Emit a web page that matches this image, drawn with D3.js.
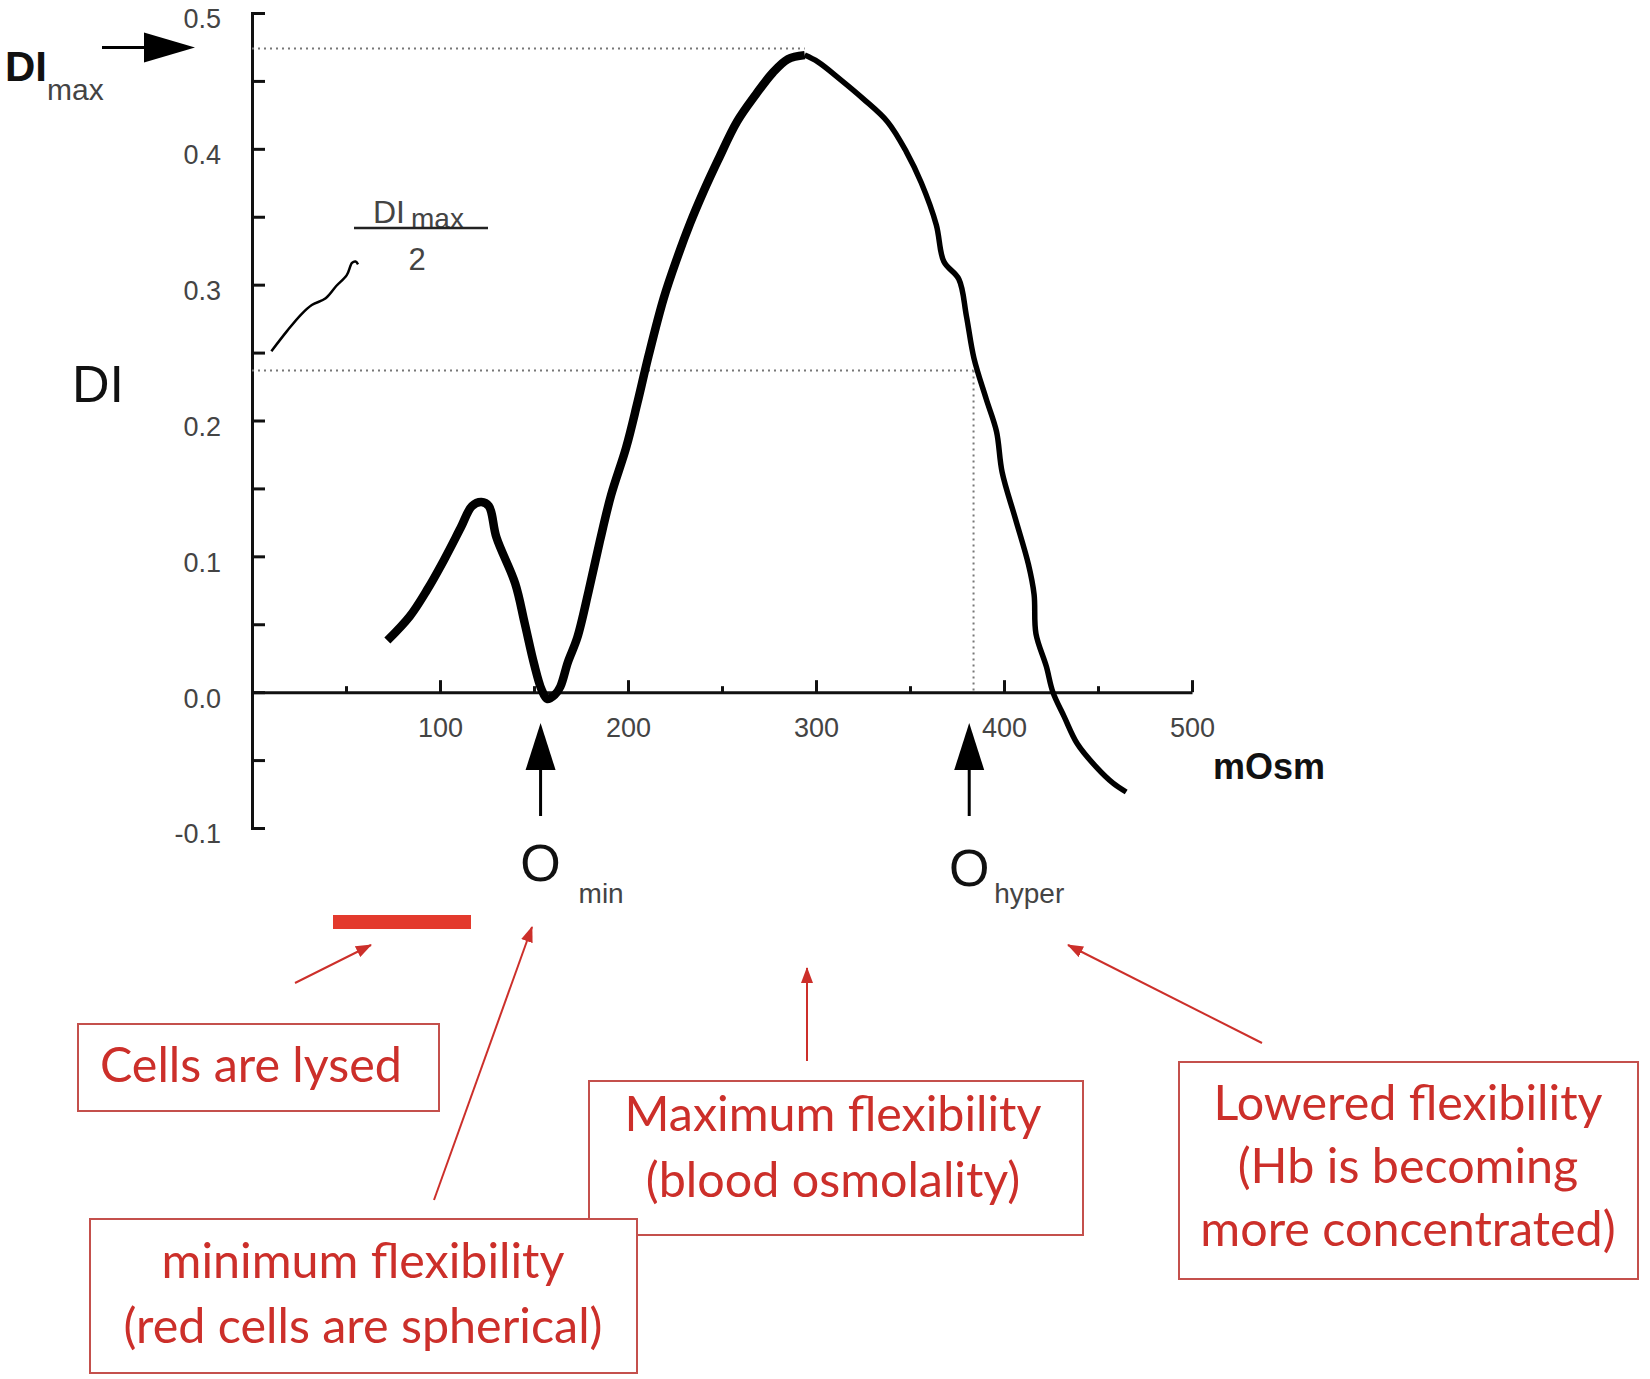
<!DOCTYPE html>
<html>
<head>
<meta charset="utf-8">
<script src="https://cdn.jsdelivr.net/npm/d3@7"></script>
<style>
  body { margin: 0; background: #fff; }
  svg { display: block; }
</style>
</head>
<body>
<script>
// osmotic deformability curve (DI vs mOsm) with the explanatory call-outs

// main curve
var osm = [72, 84, 93, 102, 111, 117, 122, 126, 130, 140, 145, 150, 154, 157, 161, 164, 168, 173, 179, 185,
           191, 199, 205, 211, 219, 226, 233, 240, 248, 258, 268, 277, 285, 294, 301, 313, 325, 338, 348, 356,
           364, 368, 376, 380, 384, 390.5, 396, 399, 406, 413, 416, 417, 422.5, 426, 432, 439, 449, 458, 465];
var di  = [0.038, 0.056, 0.075, 0.097, 0.121, 0.137, 0.140, 0.137, 0.114, 0.080, 0.051, 0.021, 0.002, -0.005, -0.002, 0.004, 0.022, 0.040, 0.074, 0.111,
           0.145, 0.180, 0.213, 0.248, 0.290, 0.319, 0.345, 0.368, 0.392, 0.420, 0.440, 0.456, 0.466, 0.469, 0.464, 0.451, 0.437, 0.420, 0.398, 0.375,
           0.344, 0.317, 0.304, 0.277, 0.246, 0.216, 0.192, 0.162, 0.128, 0.094, 0.072, 0.043, 0.019, 0.000, -0.018, -0.038, -0.055, -0.067, -0.0735];

// the short thin trace near the y axis
var fragOsm = [10.3, 18.7, 26.1, 31.8, 39.2, 44.8, 50.4, 53.2, 55.1, 56.4];
var fragDi  = [0.251, 0.266, 0.278, 0.285, 0.290, 0.299, 0.307, 0.316, 0.317, 0.315];

var diMax = 0.4738;     // dotted DImax line
var oMin = 153.5;       // O min arrow
var oHyper = 381.5;     // O hyper arrow
var oHalf = 383.8;      // where the curve crosses DImax/2 on the right

var yMajor = [-0.1, 0, 0.1, 0.2, 0.3, 0.4, 0.5];
var yMinor = [-0.05, 0.05, 0.15, 0.25, 0.35, 0.45];
var xMajor = [100, 200, 300, 400, 500];
var xMinor = [50, 150, 250, 350, 450];

var boxLines = [
  ['Cells are lysed'],
  ['Maximum flexibility', '(blood osmolality)'],
  ['minimum flexibility', '(red cells are spherical)'],
  ['Lowered flexibility', '(Hb is becoming', 'more concentrated)']
];

var width = 1650, height = 1379;
var red = '#cc2f2a', boxRed = '#c4504c';

var svg = d3.select('body').append('svg')
  .attr('width', width)
  .attr('height', height)
  .style('font-family', '"Liberation Sans", Arial, sans-serif');

svg.append('rect').attr('width', width).attr('height', height).attr('fill', '#fff');

var x = d3.scaleLinear().domain([0, 500]).range([252, 1192]);
var y = d3.scaleLinear().domain([-0.1, 0.5]).range([828, 13]);

// axes
var yAxis = svg.append('g')
  .attr('transform', 'translate(' + x(0) + ',0)')
  .call(d3.axisLeft(y).tickValues(yMajor).tickFormat(function (d) { return d.toFixed(1); })
    .tickSizeInner(-13).tickSizeOuter(-13).tickPadding(31));
svg.append('g')
  .attr('transform', 'translate(' + x(0) + ',0)')
  .call(d3.axisLeft(y).tickValues(yMinor).tickFormat('').tickSizeInner(-13).tickSizeOuter(0))
  .select('.domain').remove();

var xAxis = svg.append('g')
  .attr('transform', 'translate(0,' + y(0) + ')')
  .call(d3.axisBottom(x).tickValues(xMajor).tickSizeInner(-12).tickSizeOuter(0).tickPadding(26));
svg.append('g')
  .attr('transform', 'translate(0,' + y(0) + ')')
  .call(d3.axisBottom(x).tickValues(xMinor).tickFormat('').tickSizeInner(-6).tickSizeOuter(0))
  .select('.domain').remove();

svg.selectAll('.domain, .tick line').attr('stroke', '#111').attr('stroke-width', 3);
yAxis.selectAll('.tick text').attr('font-size', 27).attr('fill', '#444').attr('dy', '0.55em');
xAxis.selectAll('.tick text').attr('font-size', 27).attr('fill', '#444');

// dotted guide lines
var dotted = svg.append('g').attr('stroke', '#777').attr('stroke-width', 2).attr('stroke-dasharray', '2,4');
dotted.append('line').attr('x1', x(0)).attr('x2', x(294)).attr('y1', y(diMax)).attr('y2', y(diMax));
dotted.append('line').attr('x1', x(0)).attr('x2', x(oHalf)).attr('y1', y(diMax / 2)).attr('y2', y(diMax / 2));
dotted.append('line').attr('x1', x(oHalf)).attr('x2', x(oHalf)).attr('y1', y(diMax / 2)).attr('y2', y(0));

// curve, thicker on the rising side like the original
var pts = osm.map(function (d, i) { return [d, di[i]]; });
var line = d3.line()
  .x(function (d) { return x(d[0]); })
  .y(function (d) { return y(d[1]); })
  .curve(d3.curveCatmullRom.alpha(0.5));
var peak = d3.maxIndex(di);
svg.append('path').datum(pts.slice(0, peak + 1))
  .attr('d', line).attr('fill', 'none').attr('stroke', '#000')
  .attr('stroke-width', 8.5).attr('stroke-linejoin', 'round').attr('stroke-linecap', 'butt');
svg.append('path').datum(pts.slice(peak))
  .attr('d', line).attr('fill', 'none').attr('stroke', '#000')
  .attr('stroke-width', 5.5).attr('stroke-linejoin', 'round').attr('stroke-linecap', 'butt');

svg.append('path').datum(fragOsm.map(function (d, i) { return [d, fragDi[i]]; }))
  .attr('d', line).attr('fill', 'none').attr('stroke', '#000').attr('stroke-width', 2.5);

// axis titles
svg.append('text').attr('x', 72).attr('y', 402).attr('font-size', 52).attr('fill', '#111').text('DI');
svg.append('text').attr('x', 1213).attr('y', 779).attr('font-size', 36).attr('font-weight', 'bold')
  .attr('fill', '#111').text('mOsm');

// DImax with arrow
svg.append('text').attr('x', 5).attr('y', 81).attr('font-size', 42).attr('font-weight', 'bold')
  .attr('fill', '#111').text('DI');
svg.append('text').attr('x', 47).attr('y', 100).attr('font-size', 30).attr('fill', '#444').text('max');
var ay = y(diMax) - 1;
svg.append('line').attr('x1', 102).attr('x2', 150).attr('y1', ay).attr('y2', ay)
  .attr('stroke', '#000').attr('stroke-width', 3);
svg.append('path').attr('d', d3.line()([[144, ay - 15], [195, ay], [144, ay + 15]]) + 'Z').attr('fill', '#000');

// DImax / 2
var frac = svg.append('g').attr('fill', '#444');
frac.append('text').attr('x', 373).attr('y', 223).attr('font-size', 32).text('DI');
frac.append('text').attr('x', 411).attr('y', 228).attr('font-size', 28).text('max');
frac.append('line').attr('x1', 354).attr('x2', 488).attr('y1', 228).attr('y2', 228)
  .attr('stroke', '#222').attr('stroke-width', 2.5);
frac.append('text').attr('x', 417).attr('y', 270).attr('font-size', 31).attr('text-anchor', 'middle').text('2');

// O min / O hyper arrows
[[oMin, 38, 'min', 881], [oHyper, 25, 'hyper', 886]].forEach(function (m) {
  var cx = x(m[0]);
  svg.append('line').attr('x1', cx).attr('x2', cx).attr('y1', 768).attr('y2', 816)
    .attr('stroke', '#000').attr('stroke-width', 3);
  svg.append('path').attr('d', d3.line()([[cx - 15, 770], [cx, 723], [cx + 15, 770]]) + 'Z').attr('fill', '#000');
  svg.append('text').attr('x', cx).attr('y', m[3]).attr('text-anchor', 'middle')
    .attr('font-size', 52).attr('fill', '#111').text('O');
  svg.append('text').attr('x', cx + m[1]).attr('y', 903).attr('font-size', 28).attr('fill', '#444').text(m[2]);
});

// red annotations
svg.append('defs').append('marker')
  .attr('id', 'redHead').attr('markerUnits', 'userSpaceOnUse')
  .attr('markerWidth', 16).attr('markerHeight', 12).attr('refX', 15).attr('refY', 6)
  .attr('orient', 'auto')
  .append('path').attr('d', 'M0,0L16,6L0,12Z').attr('fill', red);

svg.append('rect').attr('x', 333).attr('y', 915).attr('width', 138).attr('height', 14).attr('fill', '#e33a2d');

var redArrows = [
  [295, 983, 371, 945],
  [434, 1200, 532, 927],
  [807, 1061, 807, 968],
  [1262, 1043, 1068, 945]
];
svg.selectAll('line.red').data(redArrows).enter().append('line')
  .attr('class', 'red')
  .attr('x1', function (d) { return d[0]; }).attr('y1', function (d) { return d[1]; })
  .attr('x2', function (d) { return d[2]; }).attr('y2', function (d) { return d[3]; })
  .attr('stroke', red).attr('stroke-width', 2).attr('marker-end', 'url(#redHead)');

// boxes: x, y, w, h, text centre, first baseline, line step
var boxGeom = [
  [78, 1024, 361, 87, 251, 1082, 0],
  [589, 1081, 494, 154, 833, 1131, 66],
  [90, 1219, 547, 154, 363, 1278, 65],
  [1179, 1062, 459, 217, 1408, 1120, 63]
];

var font = '"Lato", "Open Sans", sans-serif';
// size the call-out text so its width matches the original's
var probe = svg.append('text').attr('font-family', font).attr('font-size', 50).text('Lowered flexibility');
var redSize = 50 * 389 / probe.node().getComputedTextLength();
probe.remove();

boxGeom.forEach(function (b, i) {
  svg.append('rect').attr('x', b[0]).attr('y', b[1]).attr('width', b[2]).attr('height', b[3])
    .attr('fill', '#fff').attr('stroke', boxRed).attr('stroke-width', 2);
  var t = svg.append('text').attr('font-family', font).attr('font-size', redSize)
    .attr('fill', red).attr('text-anchor', 'middle');
  boxLines[i].forEach(function (s, j) {
    t.append('tspan').attr('x', b[4]).attr('y', b[5] + j * b[6]).text(s);
  });
});
</script>
</body>
</html>
